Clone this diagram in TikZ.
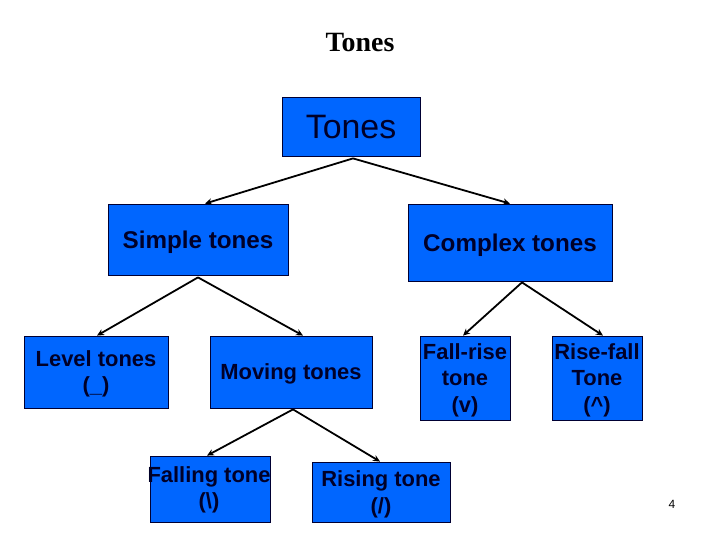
\documentclass[tikz,border=0pt]{standalone}
\usepackage{fontspec}
\setmainfont{Liberation Sans}
\newfontfamily\titlefont{Liberation Serif}
\usetikzlibrary{arrows.meta,calc}
\definecolor{boxblue}{RGB}{0,102,255}
\definecolor{boxtext}{RGB}{0,0,40}
\begin{document}
\begin{tikzpicture}[x=1bp,y=-1bp,
  tbox/.style={draw=black!80!blue,line width=0.8bp,fill=boxblue,inner sep=0pt},
  ttext/.style={inner sep=0pt,align=center,text=boxtext},
  conn/.style={line width=1.8bp,-{Stealth[length=7bp,width=6.5bp]}},
  big/.style={font=\fontsize{34}{38}\selectfont},
  mid/.style={font=\bfseries\fontsize{24.3}{28}\selectfont},
  small/.style={font=\bfseries\fontsize{22}{26.5}\selectfont}]
\useasboundingbox (0,0) rectangle (720,540);
\node[font=\titlefont\bfseries\fontsize{28}{30}\selectfont,text=black] (title) at (360,43) {Tones};
% boxes
\node[tbox,minimum width=138bp,minimum height=59bp] (tones) at (351,126.5) {};
\node[tbox,minimum width=180bp,minimum height=71bp] (simple) at (198,239.5) {};
\node[tbox,minimum width=204bp,minimum height=77bp] (complex) at (510,242.5) {};
\node[tbox,minimum width=144bp,minimum height=72bp] (level) at (96,372) {};
\node[tbox,minimum width=162bp,minimum height=72bp] (moving) at (291,372) {};
\node[tbox,minimum width=90bp,minimum height=84bp] (fallrise) at (465,378) {};
\node[tbox,minimum width=90bp,minimum height=84bp] (risefall) at (597,378) {};
\node[tbox,minimum width=120bp,minimum height=66bp] (falling) at (210,489) {};
\node[tbox,minimum width=138bp,minimum height=60bp] (rising) at (381,492) {};
% texts
\node[ttext,big] (tonestxt) at ($(tones.center)+(0,1)$) {Tones};
\node[ttext,mid] (simpletxt) at ($(simple.center)+(0,3)$) {Simple tones};
\node[ttext,mid] (complextxt) at ($(complex.center)+(0,3)$) {Complex tones};
\node[ttext,small] (leveltxt) at ($(level.center)+(0,2)$) {Level tones\\(\_)};
\node[ttext,small] (movingtxt) at ($(moving.center)+(0,2)$) {Moving tones};
\node[ttext,small] (fallrisetxt) at ($(fallrise.center)+(0,2)$) {Fall-rise\\tone\\(v)};
\node[ttext,small] (risefalltxt) at ($(risefall.center)+(0,2)$) {Rise-fall\\Tone\\(\^{})};
\node[ttext,small] (fallingtxt) at ($(falling.center)+(-1,1)$) {Falling tone\\(\textbackslash)};
\node[ttext,small] (risingtxt) at ($(rising.center)+(0,2.5)$) {Rising tone\\(/)};
\node[font=\fontsize{12}{14}\selectfont] (page) at (672,504) {4};
% connectors
\draw[conn] ($(tones.south)+(2,2)$) -- ($(simple.north)+(7,0)$);
\draw[conn] ($(tones.south)+(2,2)$) -- ($(complex.north)+(0,0)$);
\draw[conn] ($(simple.south)+(0,2)$) -- ($(level.north)+(1,0)$);
\draw[conn] ($(simple.south)+(0,2)$) -- ($(moving.north)+(12,0)$);
\draw[conn] ($(complex.south)+(12,1)$) -- ($(fallrise.north)+(-2,0)$);
\draw[conn] ($(complex.south)+(12,1)$) -- ($(risefall.north)+(6,0)$);
\draw[conn] ($(moving.south)+(2,1)$) -- ($(falling.north)+(-3,0)$);
\draw[conn] ($(moving.south)+(2,1)$) -- ($(rising.north)+(-1,0)$);
\end{tikzpicture}
\end{document}
